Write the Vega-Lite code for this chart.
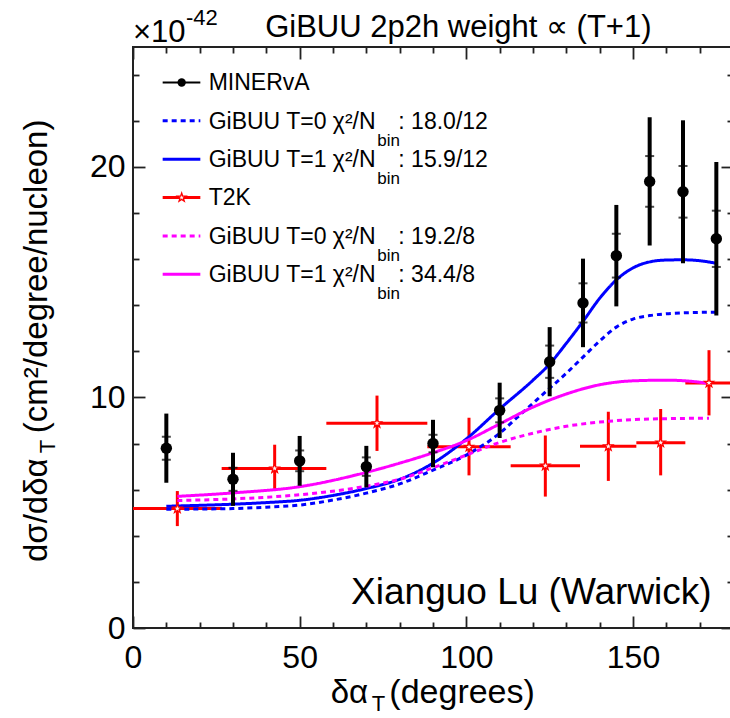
{
  "$schema": "https://vega.github.io/schema/vega-lite/v6.json",
  "width": 600,
  "height": 581,
  "autosize": "none",
  "padding": {"left": 133, "top": 47, "right": 0, "bottom": 90},
  "background": "white",
  "config": {
    "view": {"stroke": "#222", "strokeWidth": 2},
    "text": {"font": "Liberation Sans", "color": "black"}
  },
  "datasets": {
    "minerva": [
      {"x": 10, "y": 7.8, "lo": 6.3, "hi": 9.3, "slo": 7.3, "shi": 8.3},
      {"x": 30, "y": 6.45, "lo": 5.3, "hi": 7.6, "slo": 5.95, "shi": 6.95},
      {"x": 50, "y": 7.25, "lo": 6.17, "hi": 8.33, "slo": 6.8, "shi": 7.7},
      {"x": 70, "y": 7.0, "lo": 6.1, "hi": 7.9, "slo": 6.6, "shi": 7.4},
      {"x": 90, "y": 8.0, "lo": 6.97, "hi": 9.03, "slo": 7.62, "shi": 8.38},
      {"x": 110, "y": 9.44, "lo": 8.24, "hi": 10.64, "slo": 8.92, "shi": 9.96},
      {"x": 125, "y": 11.55, "lo": 10.05, "hi": 13.05, "slo": 10.85, "shi": 12.25},
      {"x": 135, "y": 14.1, "lo": 12.18, "hi": 16.02, "slo": 13.25, "shi": 14.95},
      {"x": 145, "y": 16.15, "lo": 13.95, "hi": 18.35, "slo": 15.2, "shi": 17.1},
      {"x": 155, "y": 19.37, "lo": 16.59, "hi": 22.15, "slo": 18.27, "shi": 20.47},
      {"x": 165, "y": 18.92, "lo": 15.82, "hi": 22.02, "slo": 17.8, "shi": 20.04},
      {"x": 175, "y": 16.88, "lo": 13.55, "hi": 20.21, "slo": 15.66, "shi": 18.1}
    ],
    "t2k": [
      {"x": 13.3, "xlo": 0, "xhi": 26.6, "y": 5.18, "lo": 4.42, "hi": 5.94},
      {"x": 42.5, "xlo": 26.6, "xhi": 58, "y": 6.92, "lo": 5.95, "hi": 7.95},
      {"x": 73.2, "xlo": 58, "xhi": 88.3, "y": 8.88, "lo": 7.68, "hi": 10.08},
      {"x": 100.8, "xlo": 88.3, "xhi": 113.3, "y": 7.86, "lo": 6.62, "hi": 9.12},
      {"x": 123.7, "xlo": 113.3, "xhi": 134.1, "y": 7.04, "lo": 5.7, "hi": 8.35},
      {"x": 142.6, "xlo": 134.1, "xhi": 151, "y": 7.88, "lo": 6.38, "hi": 9.38},
      {"x": 158.3, "xlo": 151, "xhi": 165.7, "y": 8.04, "lo": 6.62, "hi": 9.5},
      {"x": 172.8, "xlo": 165.7, "xhi": 180, "y": 10.63, "lo": 9.22, "hi": 12.05}
    ],
    "curves": [
      {"series": "mT1", "x": 10, "y": 5.28}, {"series": "mT1", "x": 20, "y": 5.32}, {"series": "mT1", "x": 30, "y": 5.37}, {"series": "mT1", "x": 40, "y": 5.44}, {"series": "mT1", "x": 50, "y": 5.54}, {"series": "mT1", "x": 60, "y": 5.75}, {"series": "mT1", "x": 70, "y": 6.05}, {"series": "mT1", "x": 80, "y": 6.45}, {"series": "mT1", "x": 90, "y": 7.15}, {"series": "mT1", "x": 100, "y": 8.2}, {"series": "mT1", "x": 110, "y": 9.5}, {"series": "mT1", "x": 120, "y": 10.75}, {"series": "mT1", "x": 125, "y": 11.45}, {"series": "mT1", "x": 130, "y": 12.35}, {"series": "mT1", "x": 135, "y": 13.3}, {"series": "mT1", "x": 140, "y": 14.3}, {"series": "mT1", "x": 145, "y": 15.1}, {"series": "mT1", "x": 150, "y": 15.62}, {"series": "mT1", "x": 155, "y": 15.88}, {"series": "mT1", "x": 160, "y": 15.96}, {"series": "mT1", "x": 165, "y": 15.97}, {"series": "mT1", "x": 170, "y": 15.93}, {"series": "mT1", "x": 175, "y": 15.82},
      {"series": "mT0", "x": 10, "y": 5.15}, {"series": "mT0", "x": 20, "y": 5.16}, {"series": "mT0", "x": 30, "y": 5.18}, {"series": "mT0", "x": 40, "y": 5.24}, {"series": "mT0", "x": 50, "y": 5.33}, {"series": "mT0", "x": 60, "y": 5.55}, {"series": "mT0", "x": 70, "y": 5.85}, {"series": "mT0", "x": 80, "y": 6.25}, {"series": "mT0", "x": 90, "y": 6.85}, {"series": "mT0", "x": 100, "y": 7.5}, {"series": "mT0", "x": 110, "y": 8.45}, {"series": "mT0", "x": 115, "y": 9.1}, {"series": "mT0", "x": 120, "y": 9.75}, {"series": "mT0", "x": 125, "y": 10.4}, {"series": "mT0", "x": 130, "y": 11.05}, {"series": "mT0", "x": 135, "y": 11.75}, {"series": "mT0", "x": 140, "y": 12.45}, {"series": "mT0", "x": 145, "y": 13.05}, {"series": "mT0", "x": 150, "y": 13.4}, {"series": "mT0", "x": 155, "y": 13.55}, {"series": "mT0", "x": 160, "y": 13.63}, {"series": "mT0", "x": 165, "y": 13.67}, {"series": "mT0", "x": 170, "y": 13.69}, {"series": "mT0", "x": 175, "y": 13.7},
      {"series": "tT1", "x": 13.3, "y": 5.71}, {"series": "tT1", "x": 30, "y": 5.86}, {"series": "tT1", "x": 50, "y": 6.13}, {"series": "tT1", "x": 70, "y": 6.75}, {"series": "tT1", "x": 80, "y": 7.15}, {"series": "tT1", "x": 90, "y": 7.6}, {"series": "tT1", "x": 100, "y": 8.13}, {"series": "tT1", "x": 110, "y": 8.85}, {"series": "tT1", "x": 120, "y": 9.58}, {"series": "tT1", "x": 130, "y": 10.15}, {"series": "tT1", "x": 140, "y": 10.55}, {"series": "tT1", "x": 150, "y": 10.72}, {"series": "tT1", "x": 160, "y": 10.75}, {"series": "tT1", "x": 170, "y": 10.66}, {"series": "tT1", "x": 172.8, "y": 10.6},
      {"series": "tT0", "x": 13.3, "y": 5.53}, {"series": "tT0", "x": 30, "y": 5.6}, {"series": "tT0", "x": 50, "y": 5.78}, {"series": "tT0", "x": 70, "y": 6.15}, {"series": "tT0", "x": 80, "y": 6.45}, {"series": "tT0", "x": 90, "y": 6.95}, {"series": "tT0", "x": 100, "y": 7.5}, {"series": "tT0", "x": 110, "y": 8.05}, {"series": "tT0", "x": 120, "y": 8.45}, {"series": "tT0", "x": 130, "y": 8.75}, {"series": "tT0", "x": 140, "y": 8.93}, {"series": "tT0", "x": 150, "y": 9.04}, {"series": "tT0", "x": 160, "y": 9.08}, {"series": "tT0", "x": 172.8, "y": 9.1}
    ]
  },
  "resolve": {"axis": {"x": "independent", "y": "independent"}},
  "layer": [
    {
      "data": {"name": "t2k"},
      "mark": {"type": "rule", "color": "#ff0000", "strokeWidth": 3},
      "encoding": {
        "x": {"field": "xlo", "type": "quantitative", "axis": null},
        "x2": {"field": "xhi"},
        "y": {"field": "y", "type": "quantitative", "axis": null}
      }
    },
    {
      "data": {"name": "t2k"},
      "mark": {"type": "rule", "color": "#ff0000", "strokeWidth": 3},
      "encoding": {
        "x": {"field": "x", "type": "quantitative", "axis": null},
        "y": {"field": "lo", "type": "quantitative", "axis": null},
        "y2": {"field": "hi"}
      }
    },
    {
      "data": {"name": "curves"},
      "mark": {"type": "line", "strokeWidth": 3, "interpolate": "monotone"},
      "encoding": {
        "x": {"field": "x", "type": "quantitative", "axis": null},
        "y": {"field": "y", "type": "quantitative", "axis": null},
        "color": {"field": "series", "type": "nominal", "legend": null, "scale": {"domain": ["mT0", "mT1", "tT0", "tT1"], "range": ["#0000ff", "#0000ff", "#ff00ff", "#ff00ff"]}},
        "strokeDash": {"field": "series", "type": "nominal", "legend": null, "scale": {"domain": ["mT0", "mT1", "tT0", "tT1"], "range": [[5, 4], [1, 0], [5, 4], [1, 0]]}}
      }
    },
    {
      "data": {"name": "t2k"},
      "mark": {"type": "point", "shape": "M0,-1L0.235,-0.324L0.951,-0.309L0.380,0.124L0.588,0.809L0,0.4L-0.588,0.809L-0.380,0.124L-0.951,-0.309L-0.235,-0.324Z", "size": 90, "filled": true, "fill": "#fff4f4", "stroke": "#ff0000", "strokeWidth": 1.3, "opacity": 1},
      "encoding": {
        "x": {"field": "x", "type": "quantitative", "axis": null},
        "y": {"field": "y", "type": "quantitative", "axis": null}
      }
    },
    {
      "data": {"name": "minerva"},
      "mark": {"type": "rule", "color": "black", "strokeWidth": 4},
      "encoding": {
        "x": {"field": "x", "type": "quantitative",
          "scale": {"domain": [0, 180], "nice": false, "zero": false},
          "axis": {"orient": "bottom", "values": [0, 10, 20, 30, 40, 50, 60, 70, 80, 90, 100, 110, 120, 130, 140, 150, 160, 170, 180],
            "tickSize": {"condition": {"test": "datum.value % 50 === 0", "value": -12}, "value": -6},
            "tickColor": "#222", "tickWidth": 1.8,
            "labelExpr": "datum.value % 50 === 0 ? datum.label : ''",
            "labelFont": "Liberation Sans", "labelFontSize": 32, "labelColor": "black", "labelPadding": 26,
            "labelFlush": false, "labelOverlap": false, "domain": false, "grid": false, "title": null}},
        "y": {"field": "lo", "type": "quantitative",
          "scale": {"domain": [0, 25.2], "nice": false, "zero": false},
          "axis": {"orient": "left", "values": [0, 2, 4, 6, 8, 10, 12, 14, 16, 18, 20, 22, 24],
            "tickSize": {"condition": {"test": "datum.value % 10 === 0", "value": -12}, "value": -6},
            "tickColor": "#222", "tickWidth": 1.8,
            "labelExpr": "datum.value % 10 === 0 ? datum.label : ''",
            "labelFont": "Liberation Sans", "labelFontSize": 32, "labelColor": "black", "labelPadding": 20,
            "labelFlush": false, "labelOverlap": false, "domain": false, "grid": false, "title": null}},
        "y2": {"field": "hi"}
      }
    },
    {
      "data": {"name": "minerva"},
      "mark": {"type": "tick", "orient": "horizontal", "size": 9, "thickness": 2, "color": "black"},
      "encoding": {
        "x": {"field": "x", "type": "quantitative", "axis": null},
        "y": {"field": "slo", "type": "quantitative", "axis": null}
      }
    },
    {
      "data": {"name": "minerva"},
      "mark": {"type": "tick", "orient": "horizontal", "size": 9, "thickness": 2, "color": "black"},
      "encoding": {
        "x": {"field": "x", "type": "quantitative", "axis": null},
        "y": {"field": "shi", "type": "quantitative", "axis": null}
      }
    },
    {
      "data": {"name": "minerva"},
      "mark": {"type": "point", "shape": "circle", "size": 130, "filled": true, "color": "black", "opacity": 1},
      "encoding": {
        "x": {"field": "x", "type": "quantitative",
          "scale": {"domain": [0, 180], "nice": false, "zero": false},
          "axis": {"orient": "top", "values": [0, 10, 20, 30, 40, 50, 60, 70, 80, 90, 100, 110, 120, 130, 140, 150, 160, 170, 180],
            "tickSize": {"condition": {"test": "datum.value % 50 === 0", "value": -12}, "value": -6},
            "tickColor": "#222", "tickWidth": 1.8, "labels": false, "domain": false, "grid": false, "title": null}},
        "y": {"field": "y", "type": "quantitative",
          "scale": {"domain": [0, 25.2], "nice": false, "zero": false},
          "axis": {"orient": "right", "values": [0, 2, 4, 6, 8, 10, 12, 14, 16, 18, 20, 22, 24],
            "tickSize": {"condition": {"test": "datum.value % 10 === 0", "value": -12}, "value": -6},
            "tickColor": "#222", "tickWidth": 1.8, "labels": false, "domain": false, "grid": false, "title": null}}
      }
    },
    {"data": {"values": [{}]}, "mark": {"type": "rule", "color": "black", "strokeWidth": 2},
      "encoding": {"x": {"datum": 8.9, "type": "quantitative", "axis": null}, "x2": {"datum": 20.2}, "y": {"datum": 23.66, "type": "quantitative", "axis": null}}},
    {"data": {"values": [{}]}, "mark": {"type": "rule", "color": "#0000ff", "strokeWidth": 3, "strokeDash": [5, 4]},
      "encoding": {"x": {"datum": 8.9, "type": "quantitative", "axis": null}, "x2": {"datum": 20.2}, "y": {"datum": 22.0, "type": "quantitative", "axis": null}}},
    {"data": {"values": [{}]}, "mark": {"type": "rule", "color": "#0000ff", "strokeWidth": 3},
      "encoding": {"x": {"datum": 8.9, "type": "quantitative", "axis": null}, "x2": {"datum": 20.2}, "y": {"datum": 20.33, "type": "quantitative", "axis": null}}},
    {"data": {"values": [{}]}, "mark": {"type": "rule", "color": "#ff0000", "strokeWidth": 3},
      "encoding": {"x": {"datum": 8.9, "type": "quantitative", "axis": null}, "x2": {"datum": 20.2}, "y": {"datum": 18.67, "type": "quantitative", "axis": null}}},
    {"data": {"values": [{}]}, "mark": {"type": "rule", "color": "#ff00ff", "strokeWidth": 3, "strokeDash": [5, 4]},
      "encoding": {"x": {"datum": 8.9, "type": "quantitative", "axis": null}, "x2": {"datum": 20.2}, "y": {"datum": 17.0, "type": "quantitative", "axis": null}}},
    {"data": {"values": [{}]}, "mark": {"type": "rule", "color": "#ff00ff", "strokeWidth": 3},
      "encoding": {"x": {"datum": 8.9, "type": "quantitative", "axis": null}, "x2": {"datum": 20.2}, "y": {"datum": 15.34, "type": "quantitative", "axis": null}}},
    {"data": {"values": [{}]}, "mark": {"type": "point", "shape": "circle", "size": 70, "filled": true, "color": "black", "opacity": 1},
      "encoding": {"x": {"datum": 14.6, "type": "quantitative", "axis": null}, "y": {"datum": 23.66, "type": "quantitative", "axis": null}}},
    {"data": {"values": [{}]}, "mark": {"type": "point", "shape": "M0,-1L0.235,-0.324L0.951,-0.309L0.380,0.124L0.588,0.809L0,0.4L-0.588,0.809L-0.380,0.124L-0.951,-0.309L-0.235,-0.324Z", "size": 80, "filled": true, "fill": "#fff4f4", "stroke": "#ff0000", "strokeWidth": 1.3, "opacity": 1},
      "encoding": {"x": {"datum": 14.6, "type": "quantitative", "axis": null}, "y": {"datum": 18.67, "type": "quantitative", "axis": null}}},
    {"data": {"values": [{}]}, "mark": {"type": "text", "align": "left", "baseline": "top", "fontSize": 23, "lineHeight": 38.34,
        "text": ["MINERvA", "GiBUU T=0 χ²/N", "GiBUU T=1 χ²/N", "T2K", "GiBUU T=0 χ²/N", "GiBUU T=1 χ²/N"]},
      "encoding": {"x": {"datum": 22.7, "type": "quantitative", "axis": null}, "y": {"datum": 24.1, "type": "quantitative", "axis": null}}},
    {"data": {"values": [{}]}, "mark": {"type": "text", "align": "left", "baseline": "top", "fontSize": 17, "lineHeight": 38.34, "text": ["bin", "bin"]},
      "encoding": {"x": {"datum": 73.3, "type": "quantitative", "axis": null}, "y": {"datum": 21.49, "type": "quantitative", "axis": null}}},
    {"data": {"values": [{}]}, "mark": {"type": "text", "align": "left", "baseline": "top", "fontSize": 17, "lineHeight": 38.34, "text": ["bin", "bin"]},
      "encoding": {"x": {"datum": 73.3, "type": "quantitative", "axis": null}, "y": {"datum": 16.49, "type": "quantitative", "axis": null}}},
    {"data": {"values": [{}]}, "mark": {"type": "text", "align": "left", "baseline": "top", "fontSize": 23, "lineHeight": 38.34, "text": [": 18.0/12", ": 15.9/12"]},
      "encoding": {"x": {"datum": 79.6, "type": "quantitative", "axis": null}, "y": {"datum": 22.43, "type": "quantitative", "axis": null}}},
    {"data": {"values": [{}]}, "mark": {"type": "text", "align": "left", "baseline": "top", "fontSize": 23, "lineHeight": 38.34, "text": [": 19.2/8", ": 34.4/8"]},
      "encoding": {"x": {"datum": 79.6, "type": "quantitative", "axis": null}, "y": {"datum": 17.44, "type": "quantitative", "axis": null}}},
    {"data": {"values": [{}]}, "mark": {"type": "text", "align": "center", "baseline": "alphabetic", "fontSize": 31, "text": "GiBUU 2p2h weight ∝ (T+1)"},
      "encoding": {"x": {"datum": 97.6, "type": "quantitative", "axis": null}, "y": {"datum": 25.63, "type": "quantitative", "axis": null}}},
    {"data": {"values": [{}]}, "mark": {"type": "text", "align": "right", "baseline": "alphabetic", "fontSize": 37, "text": "Xianguo Lu (Warwick)"},
      "encoding": {"x": {"datum": 173.6, "type": "quantitative", "axis": null}, "y": {"datum": 1.05, "type": "quantitative", "axis": null}}},
    {"data": {"values": [{}]}, "mark": {"type": "text", "align": "left", "baseline": "alphabetic", "fontSize": 31, "text": "×10"},
      "encoding": {"x": {"datum": 0, "type": "quantitative", "axis": null}, "y": {"datum": 25.41, "type": "quantitative", "axis": null}}},
    {"data": {"values": [{}]}, "mark": {"type": "text", "align": "left", "baseline": "alphabetic", "fontSize": 22, "text": "-42"},
      "encoding": {"x": {"datum": 15.9, "type": "quantitative", "axis": null}, "y": {"datum": 26.15, "type": "quantitative", "axis": null}}},
    {"data": {"values": [{}]}, "mark": {"type": "text", "align": "left", "baseline": "alphabetic", "fontSize": 33, "text": "δα"},
      "encoding": {"x": {"datum": 59.3, "type": "quantitative", "axis": null}, "y": {"datum": -3.27, "type": "quantitative", "axis": null}}},
    {"data": {"values": [{}]}, "mark": {"type": "text", "align": "left", "baseline": "alphabetic", "fontSize": 22, "dy": 8, "text": "T"},
      "encoding": {"x": {"datum": 71.6, "type": "quantitative", "axis": null}, "y": {"datum": -3.27, "type": "quantitative", "axis": null}}},
    {"data": {"values": [{}]}, "mark": {"type": "text", "align": "left", "baseline": "alphabetic", "fontSize": 34, "text": "(degrees)"},
      "encoding": {"x": {"datum": 76.9, "type": "quantitative", "axis": null}, "y": {"datum": -3.27, "type": "quantitative", "axis": null}}},
    {"data": {"values": [{}]}, "mark": {"type": "text", "align": "left", "baseline": "alphabetic", "angle": 270, "fontSize": 33, "text": "dσ/dδα"},
      "encoding": {"x": {"datum": -25.9, "type": "quantitative", "axis": null}, "y": {"datum": 2.86, "type": "quantitative", "axis": null}}},
    {"data": {"values": [{}]}, "mark": {"type": "text", "align": "left", "baseline": "alphabetic", "angle": 270, "fontSize": 22, "dy": 8, "text": "T"},
      "encoding": {"x": {"datum": -25.9, "type": "quantitative", "axis": null}, "y": {"datum": 7.58, "type": "quantitative", "axis": null}}},
    {"data": {"values": [{}]}, "mark": {"type": "text", "align": "left", "baseline": "alphabetic", "angle": 270, "fontSize": 33, "text": "(cm²/degree/nucleon)"},
      "encoding": {"x": {"datum": -25.9, "type": "quantitative", "axis": null}, "y": {"datum": 8.45, "type": "quantitative", "axis": null}}}
  ]
}
